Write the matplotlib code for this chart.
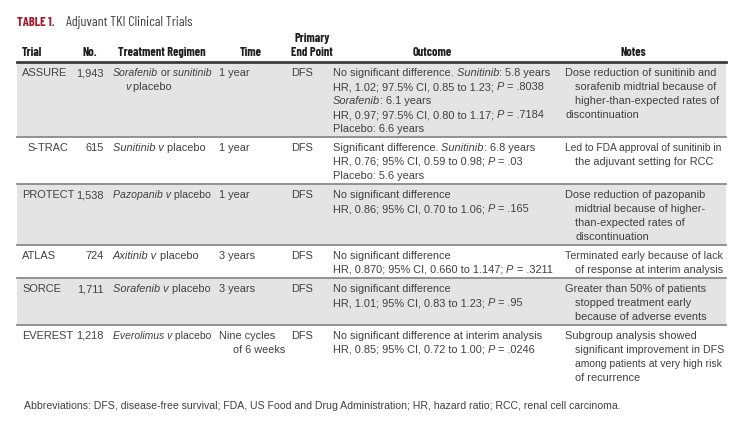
import matplotlib
matplotlib.use("Agg")
import matplotlib.pyplot as plt
from matplotlib import font_manager
from matplotlib.font_manager import FontProperties
from matplotlib.patches import Rectangle

names = {f.name for f in font_manager.fontManager.ttflist}


def pick(cands, default):
    for c in cands:
        if c in names:
            return c
    return default


body_fam = "Liberation Sans"
cond_fam = pick(["Barlow Condensed", "Asap Condensed", "Archivo Narrow", "Barlow Semi Condensed"], "DejaVu Sans")

# table content
trials = ["ASSURE", "S-TRAC", "PROTECT", "ATLAS", "SORCE", "EVEREST"]
numbers = ["1,943", "615", "1,538", "724", "1,711", "1,218"]
regimens = ["*Sorafenib* or *sunitinib*\n*v* placebo",
            "*Sunitinib v* placebo",
            "*Pazopanib v* placebo",
            "*Axitinib v* placebo",
            "*Sorafenib v* placebo",
            "*Everolimus v* placebo"]
times = ["1 year", "1 year", "1 year", "3 years", "3 years", "Nine cycles\nof 6 weeks"]
endpoints = ["DFS", "DFS", "DFS", "DFS", "DFS", "DFS"]
outcomes = [
    "No significant difference. *Sunitinib*: 5.8 years\nHR, 1.02; 97.5% CI, 0.85 to 1.23; *P* = .8038\n"
    "*Sorafenib*: 6.1 years\nHR, 0.97; 97.5% CI, 0.80 to 1.17; *P* = .7184\nPlacebo: 6.6 years",
    "Significant difference. *Sunitinib*: 6.8 years\nHR, 0.76; 95% CI, 0.59 to 0.98; *P* = .03\nPlacebo: 5.6 years",
    "No significant difference\nHR, 0.86; 95% CI, 0.70 to 1.06; *P* = .165",
    "No significant difference\nHR, 0.870; 95% CI, 0.660 to 1.147; *P* = .3211",
    "No significant difference\nHR, 1.01; 95% CI, 0.83 to 1.23; *P* = .95",
    "No significant difference at interim analysis\nHR, 0.85; 95% CI, 0.72 to 1.00; *P* = .0246",
]
notes = [
    "Dose reduction of sunitinib and\nsorafenib midtrial because of\nhigher-than-expected rates of\n<discontinuation",
    "Led to FDA approval of sunitinib in\nthe adjuvant setting for RCC",
    "Dose reduction of pazopanib\nmidtrial because of higher-\nthan-expected rates of\ndiscontinuation",
    "Terminated early because of lack\nof response at interim analysis",
    "Greater than 50% of patients\nstopped treatment early\nbecause of adverse events",
    "Subgroup analysis showed\nsignificant improvement in DFS\namong patients at very high risk\nof recurrence",
]
footnote = ("Abbreviations: DFS, disease-free survival; FDA, US Food and Drug Administration; "
            "HR, hazard ratio; RCC, renal cell carcinoma.")

fs = 7.9
txt_c = "#404040"
hdr_c = "#1e1e1e"
shade = "#e4e4e4"
lh = 14

fig = plt.figure(figsize=(7.43, 4.24), dpi=100)
ax = fig.add_axes([0, 0, 1, 1])
ax.set_xlim(0, 743)
ax.set_ylim(424, 0)
ax.axis("off")
rend = fig.canvas.get_renderer()


def fp(fam, size, style="normal", weight="normal"):
    return FontProperties(family=fam, size=size, style=style, weight=weight)


def width(s, prop):
    a = rend.get_text_width_height_descent("|" + s + "|", prop, ismath=False)[0]
    b = rend.get_text_width_height_descent("||", prop, ismath=False)[0]
    return a - b


def fitted(s, fam, target, weight="normal", base=8.0):
    return fp(fam, base * target / width(s, fp(fam, base, weight=weight)), weight=weight)


def rich(x, y, s, maxw=None):
    raw = s.split("*")
    # move trailing spaces to the start of the next piece
    parts = []
    carry = ""
    for i, p in enumerate(raw):
        p = carry + p
        carry = ""
        if i < len(raw) - 1:
            stripped = p.rstrip(" ")
            carry = p[len(stripped):]
            p = stripped
        parts.append((p, "italic" if i % 2 else "normal"))
    total = sum(width(p, fp(body_fam, fs, st)) for p, st in parts)
    size = fs
    if maxw and total > maxw:
        size = round(fs * maxw / total, 1)
    for p, st in parts:
        if not p:
            continue
        prop = fp(body_fam, size, st)
        ax.text(x, y, p, fontproperties=prop, color=txt_c, va="baseline", ha="left")
        x += width(p, prop)


def cell(x, top, s, indent=0, maxw=None):
    for j, line in enumerate(s.split("\n")):
        dx = indent if j > 0 else 0
        if line.startswith("<"):
            line, dx = line[1:], 0
        rich(x + dx, top + 10 + j * lh + 4, line, None if maxw is None else maxw - dx)


# title
ax.text(17, 26, "TABLE 1.", fontproperties=fitted("TABLE 1.", cond_fam, 38, "bold"),
        color="#a3182c", va="baseline")
ax.text(66, 26, "Adjuvant TKI Clinical Trials", fontproperties=fitted("Adjuvant TKI Clinical Trials", cond_fam, 126),
        color=txt_c, va="baseline")

# header
hp = fitted("Treatment Regimen", cond_fam, 88, "bold")
ax.text(22, 56, "Trial", fontproperties=hp, color=hdr_c, va="baseline")
ax.text(90, 56, "No.", fontproperties=hp, color=hdr_c, va="baseline", ha="center")
ax.text(118, 56, "Treatment Regimen", fontproperties=hp, color=hdr_c, va="baseline")
ax.text(251, 56, "Time", fontproperties=hp, color=hdr_c, va="baseline", ha="center")
ax.text(312, 42, "Primary", fontproperties=hp, color=hdr_c, va="baseline", ha="center")
ax.text(312, 56, "End Point", fontproperties=hp, color=hdr_c, va="baseline", ha="center")
ax.text(432, 56, "Outcome", fontproperties=hp, color=hdr_c, va="baseline", ha="center")
ax.text(633, 56, "Notes", fontproperties=hp, color=hdr_c, va="baseline", ha="center")

left, right = 17, 726
top = 62
for i in range(len(trials)):
    n = max(c.count("\n") + 1 for c in (regimens[i], times[i], outcomes[i], notes[i]))
    h = lh * n + 5
    if i % 2 == 0:
        ax.add_patch(Rectangle((left, top), right - left, h, facecolor=shade, edgecolor="none", zorder=0))
    tx = 27 if trials[i] == "S-TRAC" else 22
    cell(tx, top, trials[i])
    ax.text(104, top + 14, numbers[i], fontproperties=fp(body_fam, fs), color=txt_c, va="baseline", ha="right")
    cell(113, top, regimens[i], indent=12, maxw=99)
    cell(219, top, times[i], indent=14, maxw=66)
    cell(291, top, endpoints[i])
    cell(333, top, outcomes[i], maxw=226)
    cell(565, top, notes[i], indent=10, maxw=158)
    if i < len(trials) - 1:
        ax.plot([left, right], [top + h, top + h], color="#8a8a8a", lw=1.3, zorder=2)
    top += h

ax.plot([left, right], [62, 62], color="#3c3c3c", lw=2.0, zorder=3)

ax.text(24, 409, footnote, fontproperties=fitted(footnote, body_fam, 601), color=txt_c, va="baseline")

fig.savefig("out.png", dpi=100)
